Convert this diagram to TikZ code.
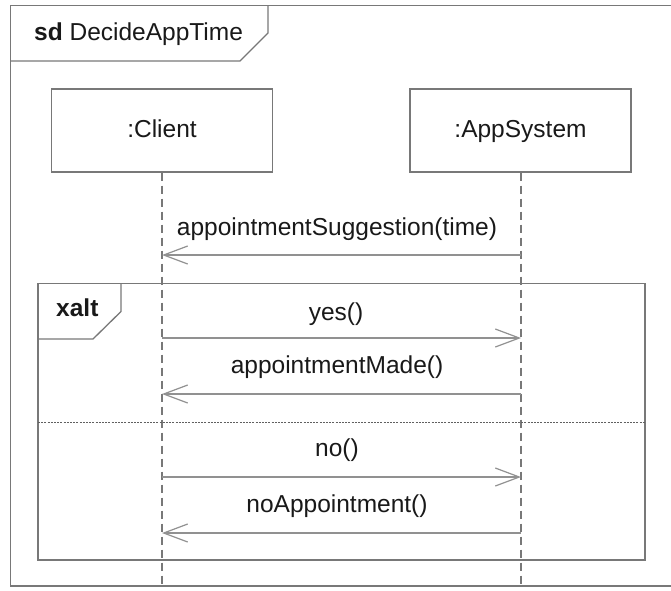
\documentclass[tikz,border=0pt]{standalone}
\usepackage{fontspec}
\setmainfont{Liberation Sans}
\usetikzlibrary{arrows.meta}
\definecolor{framegray}{RGB}{120,120,120}
\definecolor{msggray}{RGB}{145,145,145}
\definecolor{inkblack}{RGB}{25,25,25}
\begin{document}
\begin{tikzpicture}[x=1pt,y=-1pt,
  every node/.style={text=inkblack,font=\fontsize{24.5}{29}\selectfont,inner sep=0pt},
  framebox/.style={draw=framegray,line width=1.3pt},
  lifebox/.style={draw=framegray,line width=1.3pt,minimum width=221pt,minimum height=83pt,
    text height=18pt,text depth=5pt},
  lifeline/.style={draw=framegray,line width=1.2pt,dash pattern=on 8pt off 5pt},
  msg/.style={draw=msggray,line width=1.3pt,-{Straight Barb[length=24pt,width=18pt,line width=1.2pt]}},
  msglabel/.style={anchor=base},
  separator/.style={draw=framegray!80!black,line width=0.9pt,dash pattern=on 2pt off 1.2pt}]
\useasboundingbox (0,0) rectangle (671,590);
\fill[white] (0,0) rectangle (671,590);

% outer sd frame (right edge lies past the page)
\draw[framebox] (676,5.5) -- (10.5,5.5) -- (10.5,586) -- (676,586);
\draw[framebox] (10.5,61) -- (240,61) -- (268,33) -- (268,5.5);
\node[anchor=base west] (sdlabel) at (34,40) {\textbf{sd} DecideAppTime};

% lifeline heads
\node[lifebox] (client) at (162,130.5) {:Client};
\node[lifebox] (appsys) at (520.5,130.5) {:AppSystem};
\coordinate (clientend) at (162,586);
\coordinate (appsysend) at (521,586);
\draw[lifeline] (client.south) -- (clientend);
\draw[lifeline] (appsys.south -| appsysend) -- (appsysend);

% points on the lifelines where messages start and end
\foreach \n/\y in {1/255,2/338,3/394,4/477,5/533}{
  \coordinate (c\n) at (162,\y);
  \coordinate (a\n) at (521,\y);
}

% first message
\draw[msg] (a1) -- (c1);
\node[msglabel] (m1) at (337,235) {appointmentSuggestion(time)};

% xalt combined fragment
\draw[framebox] (38,283.5) rectangle (645,560);
\draw[framebox] (38,339) -- (93,339) -- (121,311.5) -- (121,283.5);
\node[anchor=base west] (xaltlabel) at (56,316.5) {\textbf{xalt}};
\coordinate (sepl) at (38,422);
\coordinate (sepr) at (645,422);
\draw[separator] (sepl) -- (sepr);

% first operand
\draw[msg] (c2) -- (a2);
\node[msglabel] (m2) at (336,320) {yes()};
\draw[msg] (a3) -- (c3);
\node[msglabel] (m3) at (337,373) {appointmentMade()};

% second operand
\draw[msg] (c4) -- (a4);
\node[msglabel] (m4) at (337,456) {no()};
\draw[msg] (a5) -- (c5);
\node[msglabel] (m5) at (337,512) {noAppointment()};
\end{tikzpicture}
\end{document}
